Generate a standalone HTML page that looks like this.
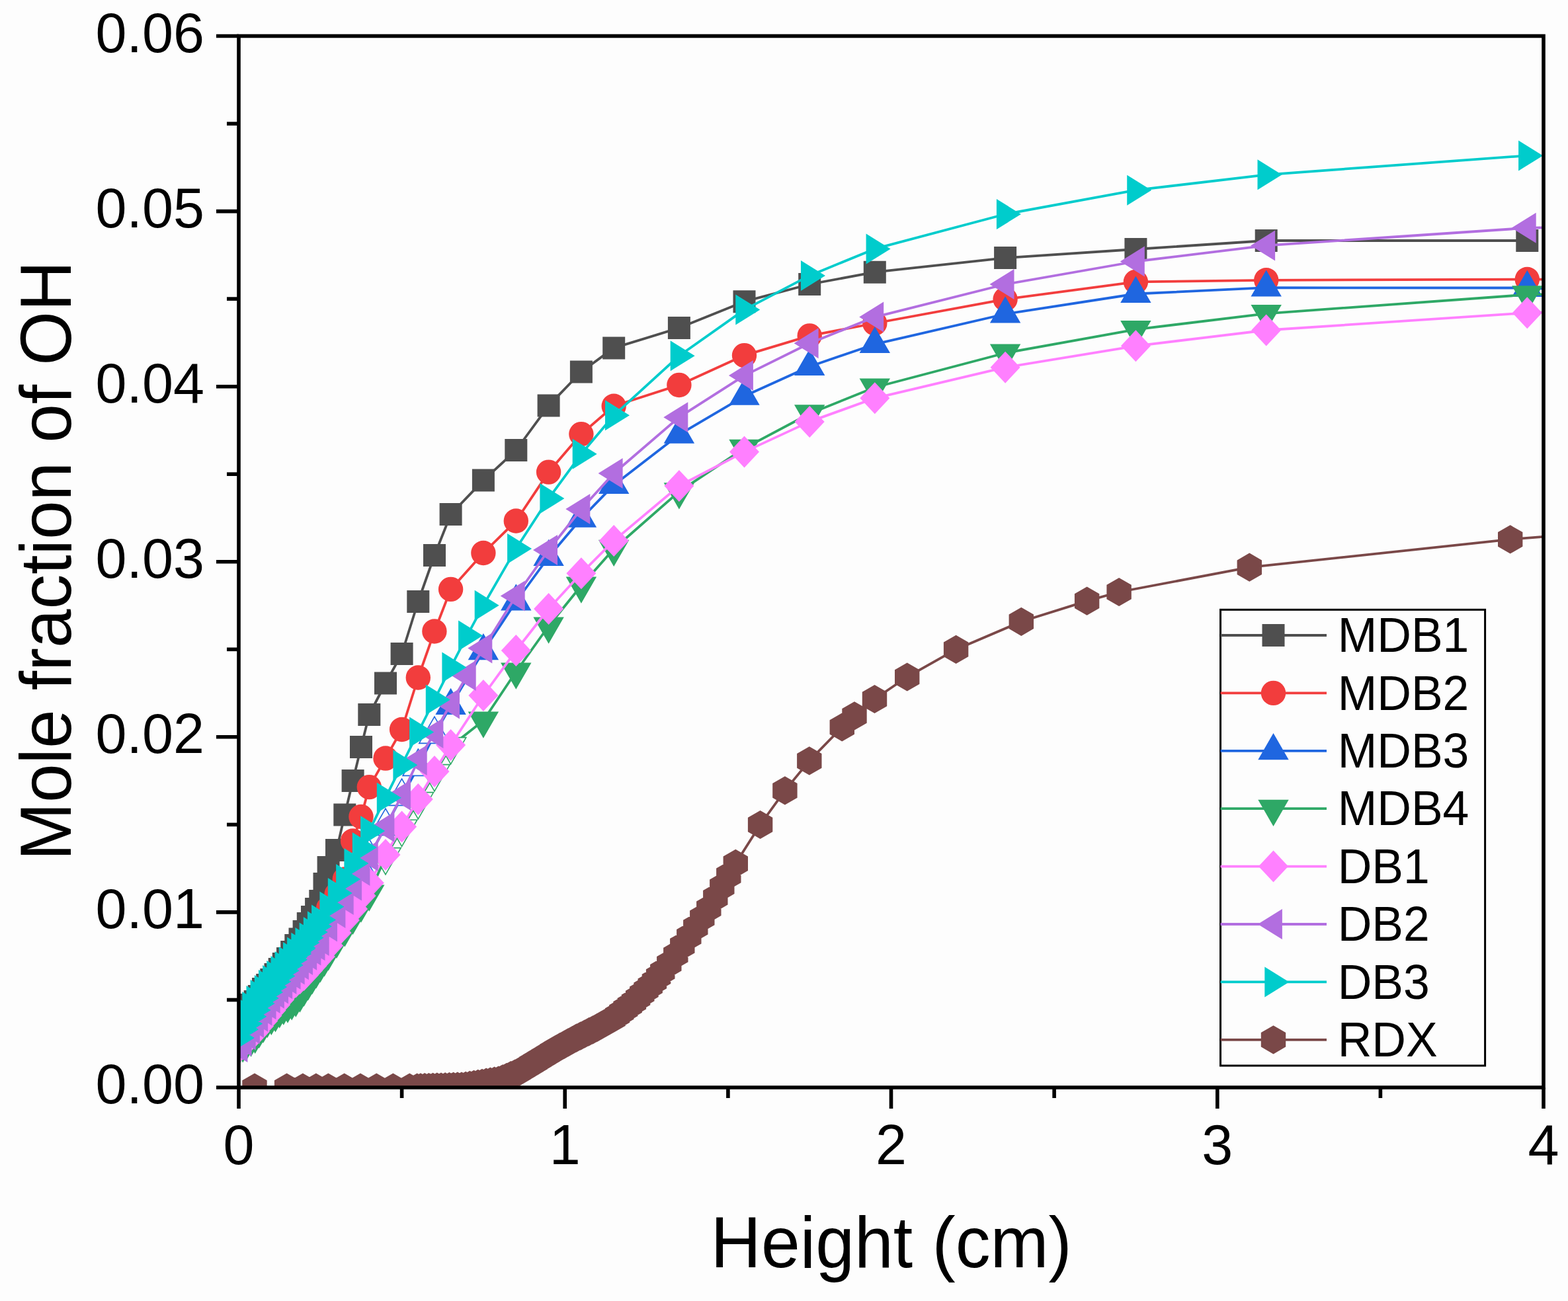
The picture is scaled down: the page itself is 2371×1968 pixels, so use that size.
<!DOCTYPE html>
<html><head><meta charset="utf-8"><title>Mole fraction of OH vs Height</title>
<style>html,body{margin:0;padding:0;background:#fdfdfd;}svg{display:block;}text{font-family:"Liberation Sans",Arial,sans-serif;fill:#000;}</style>
</head><body>
<svg xmlns="http://www.w3.org/2000/svg" width="2371" height="1968" viewBox="0 0 2371 1968">
<rect width="2371" height="1968" fill="#fdfdfd"/>
<defs><clipPath id="pc"><rect x="361" y="54.5" width="1973" height="1590.5"/></clipPath></defs>
<g clip-path="url(#pc)">
<polyline fill="none" stroke="#4f4f4f" stroke-width="3.8" stroke-linejoin="round" points="361.0,1527.0 367.2,1525.0 373.3,1522.0 379.5,1520.0 385.7,1515.0 391.8,1507.0 398.0,1496.0 404.2,1490.0 410.3,1482.0 416.5,1474.0 422.7,1466.0 428.8,1458.0 435.0,1450.0 441.2,1440.0 447.3,1430.0 453.5,1420.5 459.6,1409.0 465.8,1397.0 472.0,1387.0 478.1,1375.0 484.3,1363.0 490.5,1337.0 496.6,1312.0 509.0,1286.0 521.3,1232.5 533.6,1181.0 546.0,1130.0 558.3,1081.0 583.0,1033.5 607.6,989.0 632.3,910.0 657.0,840.0 681.6,778.0 730.9,726.6 780.3,681.0 829.6,613.6 878.9,562.5 928.2,526.4 1026.9,496.1 1125.5,456.2 1224.2,430.0 1322.8,411.7 1520.1,390.1 1717.4,377.0 1914.7,364.0 2309.3,364.0"/>
<path fill="#4f4f4f" d="M344.0 1510.0h34v34h-34zM350.2 1508.0h34v34h-34zM356.3 1505.0h34v34h-34zM362.5 1503.0h34v34h-34zM368.7 1498.0h34v34h-34zM374.8 1490.0h34v34h-34zM381.0 1479.0h34v34h-34zM387.2 1473.0h34v34h-34zM393.3 1465.0h34v34h-34zM399.5 1457.0h34v34h-34zM405.7 1449.0h34v34h-34zM411.8 1441.0h34v34h-34zM418.0 1433.0h34v34h-34zM424.2 1423.0h34v34h-34zM430.3 1413.0h34v34h-34zM436.5 1403.5h34v34h-34zM442.6 1392.0h34v34h-34zM448.8 1380.0h34v34h-34zM455.0 1370.0h34v34h-34zM461.1 1358.0h34v34h-34zM467.3 1346.0h34v34h-34zM473.5 1320.0h34v34h-34zM479.6 1295.0h34v34h-34zM492.0 1269.0h34v34h-34zM504.3 1215.5h34v34h-34zM516.6 1164.0h34v34h-34zM529.0 1113.0h34v34h-34zM541.3 1064.0h34v34h-34zM566.0 1016.5h34v34h-34zM590.6 972.0h34v34h-34zM615.3 893.0h34v34h-34zM640.0 823.0h34v34h-34zM664.6 761.0h34v34h-34zM713.9 709.6h34v34h-34zM763.3 664.0h34v34h-34zM812.6 596.6h34v34h-34zM861.9 545.5h34v34h-34zM911.2 509.4h34v34h-34zM1009.9 479.1h34v34h-34zM1108.5 439.2h34v34h-34zM1207.2 413.0h34v34h-34zM1305.8 394.7h34v34h-34zM1503.1 373.1h34v34h-34zM1700.4 360.0h34v34h-34zM1897.7 347.0h34v34h-34zM2292.3 347.0h34v34h-34z"/>
<polyline fill="none" stroke="#f23d3d" stroke-width="3.8" stroke-linejoin="round" points="361.0,1559.0 367.2,1547.0 373.3,1539.0 379.5,1529.0 385.7,1520.0 391.8,1511.0 398.0,1504.0 404.2,1496.0 410.3,1489.0 416.5,1482.0 422.7,1475.0 428.8,1468.0 435.0,1461.0 441.2,1454.1 447.3,1446.4 453.5,1439.8 459.6,1432.1 465.8,1426.5 472.0,1417.9 478.1,1409.2 484.3,1399.6 490.5,1389.5 496.6,1374.0 509.0,1353.0 521.3,1330.0 533.6,1272.0 546.0,1235.4 558.3,1190.6 583.0,1147.1 607.6,1103.5 632.3,1025.0 657.0,955.0 681.6,891.4 730.9,836.5 780.3,788.0 829.6,714.1 878.9,656.6 928.2,614.3 1026.9,582.4 1125.5,537.6 1224.2,507.9 1322.8,489.0 1520.1,452.6 1717.4,426.4 1914.7,423.8 2309.3,422.6 2531.3,422.0"/>
<path fill="#f23d3d" d="M342.3 1559.0a18.7 18.7 0 1 0 37.4 0a18.7 18.7 0 1 0 -37.4 0zM348.5 1547.0a18.7 18.7 0 1 0 37.4 0a18.7 18.7 0 1 0 -37.4 0zM354.6 1539.0a18.7 18.7 0 1 0 37.4 0a18.7 18.7 0 1 0 -37.4 0zM360.8 1529.0a18.7 18.7 0 1 0 37.4 0a18.7 18.7 0 1 0 -37.4 0zM367.0 1520.0a18.7 18.7 0 1 0 37.4 0a18.7 18.7 0 1 0 -37.4 0zM373.1 1511.0a18.7 18.7 0 1 0 37.4 0a18.7 18.7 0 1 0 -37.4 0zM379.3 1504.0a18.7 18.7 0 1 0 37.4 0a18.7 18.7 0 1 0 -37.4 0zM385.5 1496.0a18.7 18.7 0 1 0 37.4 0a18.7 18.7 0 1 0 -37.4 0zM391.6 1489.0a18.7 18.7 0 1 0 37.4 0a18.7 18.7 0 1 0 -37.4 0zM397.8 1482.0a18.7 18.7 0 1 0 37.4 0a18.7 18.7 0 1 0 -37.4 0zM404.0 1475.0a18.7 18.7 0 1 0 37.4 0a18.7 18.7 0 1 0 -37.4 0zM410.1 1468.0a18.7 18.7 0 1 0 37.4 0a18.7 18.7 0 1 0 -37.4 0zM416.3 1461.0a18.7 18.7 0 1 0 37.4 0a18.7 18.7 0 1 0 -37.4 0zM422.5 1454.1a18.7 18.7 0 1 0 37.4 0a18.7 18.7 0 1 0 -37.4 0zM428.6 1446.4a18.7 18.7 0 1 0 37.4 0a18.7 18.7 0 1 0 -37.4 0zM434.8 1439.8a18.7 18.7 0 1 0 37.4 0a18.7 18.7 0 1 0 -37.4 0zM440.9 1432.1a18.7 18.7 0 1 0 37.4 0a18.7 18.7 0 1 0 -37.4 0zM447.1 1426.5a18.7 18.7 0 1 0 37.4 0a18.7 18.7 0 1 0 -37.4 0zM453.3 1417.9a18.7 18.7 0 1 0 37.4 0a18.7 18.7 0 1 0 -37.4 0zM459.4 1409.2a18.7 18.7 0 1 0 37.4 0a18.7 18.7 0 1 0 -37.4 0zM465.6 1399.6a18.7 18.7 0 1 0 37.4 0a18.7 18.7 0 1 0 -37.4 0zM471.8 1389.5a18.7 18.7 0 1 0 37.4 0a18.7 18.7 0 1 0 -37.4 0zM477.9 1374.0a18.7 18.7 0 1 0 37.4 0a18.7 18.7 0 1 0 -37.4 0zM490.3 1353.0a18.7 18.7 0 1 0 37.4 0a18.7 18.7 0 1 0 -37.4 0zM502.6 1330.0a18.7 18.7 0 1 0 37.4 0a18.7 18.7 0 1 0 -37.4 0zM514.9 1272.0a18.7 18.7 0 1 0 37.4 0a18.7 18.7 0 1 0 -37.4 0zM527.3 1235.4a18.7 18.7 0 1 0 37.4 0a18.7 18.7 0 1 0 -37.4 0zM539.6 1190.6a18.7 18.7 0 1 0 37.4 0a18.7 18.7 0 1 0 -37.4 0zM564.3 1147.1a18.7 18.7 0 1 0 37.4 0a18.7 18.7 0 1 0 -37.4 0zM588.9 1103.5a18.7 18.7 0 1 0 37.4 0a18.7 18.7 0 1 0 -37.4 0zM613.6 1025.0a18.7 18.7 0 1 0 37.4 0a18.7 18.7 0 1 0 -37.4 0zM638.2 955.0a18.7 18.7 0 1 0 37.4 0a18.7 18.7 0 1 0 -37.4 0zM662.9 891.4a18.7 18.7 0 1 0 37.4 0a18.7 18.7 0 1 0 -37.4 0zM712.2 836.5a18.7 18.7 0 1 0 37.4 0a18.7 18.7 0 1 0 -37.4 0zM761.6 788.0a18.7 18.7 0 1 0 37.4 0a18.7 18.7 0 1 0 -37.4 0zM810.9 714.1a18.7 18.7 0 1 0 37.4 0a18.7 18.7 0 1 0 -37.4 0zM860.2 656.6a18.7 18.7 0 1 0 37.4 0a18.7 18.7 0 1 0 -37.4 0zM909.5 614.3a18.7 18.7 0 1 0 37.4 0a18.7 18.7 0 1 0 -37.4 0zM1008.2 582.4a18.7 18.7 0 1 0 37.4 0a18.7 18.7 0 1 0 -37.4 0zM1106.8 537.6a18.7 18.7 0 1 0 37.4 0a18.7 18.7 0 1 0 -37.4 0zM1205.5 507.9a18.7 18.7 0 1 0 37.4 0a18.7 18.7 0 1 0 -37.4 0zM1304.1 489.0a18.7 18.7 0 1 0 37.4 0a18.7 18.7 0 1 0 -37.4 0zM1501.4 452.6a18.7 18.7 0 1 0 37.4 0a18.7 18.7 0 1 0 -37.4 0zM1698.7 426.4a18.7 18.7 0 1 0 37.4 0a18.7 18.7 0 1 0 -37.4 0zM1896.0 423.8a18.7 18.7 0 1 0 37.4 0a18.7 18.7 0 1 0 -37.4 0zM2290.6 422.6a18.7 18.7 0 1 0 37.4 0a18.7 18.7 0 1 0 -37.4 0z"/>
<polyline fill="none" stroke="#1f66e0" stroke-width="3.8" stroke-linejoin="round" points="361.0,1568.5 367.2,1557.9 373.3,1549.2 379.5,1539.6 385.7,1530.5 391.8,1521.4 398.0,1513.2 404.2,1504.6 410.3,1496.5 416.5,1489.4 422.7,1482.2 428.8,1475.1 435.0,1468.0 441.2,1460.9 447.3,1453.5 453.5,1446.5 459.6,1439.1 465.8,1431.6 472.0,1423.7 478.1,1415.7 484.3,1407.3 490.5,1396.9 496.6,1386.5 509.0,1366.0 521.3,1348.5 533.6,1331.0 546.0,1313.5 558.3,1296.0 583.0,1250.0 607.6,1205.0 632.3,1160.0 657.0,1111.0 681.6,1067.6 730.9,984.8 780.3,910.0 829.6,842.5 878.9,784.3 928.2,733.7 1026.9,657.4 1125.5,599.3 1224.2,554.5 1322.8,520.7 1520.1,475.0 1717.4,444.5 1914.7,435.2 2309.3,435.5 2531.3,445.0"/>
<path fill="#1f66e0" d="M361.0 1541.7L384.2 1581.9L337.8 1581.9zM367.2 1531.1L390.4 1571.3L344.0 1571.3zM373.3 1522.5L396.5 1562.7L350.1 1562.7zM379.5 1512.8L402.7 1553.0L356.3 1553.0zM385.7 1503.7L408.9 1543.9L362.5 1543.9zM391.8 1494.6L415.0 1534.8L368.6 1534.8zM398.0 1486.5L421.2 1526.7L374.8 1526.7zM404.2 1477.8L427.4 1518.0L381.0 1518.0zM410.3 1469.7L433.5 1509.9L387.1 1509.9zM416.5 1462.6L439.7 1502.8L393.3 1502.8zM422.7 1455.5L445.9 1495.7L399.5 1495.7zM428.8 1448.3L452.0 1488.5L405.6 1488.5zM435.0 1441.2L458.2 1481.4L411.8 1481.4zM441.2 1434.1L464.4 1474.3L418.0 1474.3zM447.3 1426.7L470.5 1466.9L424.1 1466.9zM453.5 1419.7L476.7 1459.9L430.3 1459.9zM459.6 1412.3L482.8 1452.5L436.4 1452.5zM465.8 1404.8L489.0 1445.0L442.6 1445.0zM472.0 1396.9L495.2 1437.1L448.8 1437.1zM478.1 1388.9L501.3 1429.1L454.9 1429.1zM484.3 1380.5L507.5 1420.7L461.1 1420.7zM490.5 1370.1L513.7 1410.3L467.3 1410.3zM496.6 1359.7L519.8 1399.9L473.4 1399.9zM681.6 1040.8L704.8 1081.0L658.4 1081.0zM730.9 958.0L754.1 998.2L707.7 998.2zM780.3 883.2L803.5 923.4L757.1 923.4zM829.6 815.7L852.8 855.9L806.4 855.9zM878.9 757.5L902.1 797.7L855.7 797.7zM928.2 706.9L951.4 747.1L905.0 747.1zM1026.9 630.6L1050.1 670.8L1003.7 670.8zM1125.5 572.5L1148.7 612.7L1102.3 612.7zM1224.2 527.7L1247.4 567.9L1201.0 567.9zM1322.8 493.9L1346.0 534.1L1299.6 534.1zM1520.1 448.2L1543.3 488.4L1496.9 488.4zM1717.4 417.7L1740.6 457.9L1694.2 457.9zM1914.7 408.4L1937.9 448.6L1891.5 448.6zM2309.3 408.7L2332.5 448.9L2286.1 448.9z"/>
<path fill="#fdfdfd" stroke="#1f66e0" stroke-width="1.6" stroke-linejoin="miter" d="M509.0 1339.2L532.2 1379.4L485.8 1379.4zM521.3 1321.7L544.5 1361.9L498.1 1361.9zM533.6 1304.2L556.8 1344.4L510.4 1344.4zM546.0 1286.7L569.2 1326.9L522.8 1326.9zM558.3 1269.2L581.5 1309.4L535.1 1309.4zM583.0 1223.2L606.2 1263.4L559.8 1263.4zM607.6 1178.2L630.8 1218.4L584.4 1218.4zM632.3 1133.2L655.5 1173.4L609.1 1173.4zM657.0 1084.2L680.2 1124.4L633.8 1124.4z"/>
<polyline fill="none" stroke="#2ea866" stroke-width="3.8" stroke-linejoin="round" points="361.0,1585.0 367.2,1580.6 373.3,1576.3 379.5,1571.9 385.7,1567.1 391.8,1559.2 398.0,1551.3 404.2,1543.4 410.3,1539.1 416.5,1534.6 422.7,1528.7 428.8,1523.9 435.0,1520.9 441.2,1516.7 447.3,1512.0 453.5,1504.9 459.6,1495.9 465.8,1486.9 472.0,1477.8 478.1,1468.8 484.3,1459.8 490.5,1450.8 496.6,1441.7 509.0,1423.3 521.3,1405.7 533.6,1387.2 546.0,1369.0 558.3,1352.0 583.0,1296.0 607.6,1253.6 632.3,1212.0 657.0,1170.0 681.6,1129.0 730.9,1090.0 780.3,1016.0 829.6,947.0 878.9,886.0 928.2,830.2 1026.9,743.6 1125.5,678.1 1224.2,625.7 1322.8,586.0 1520.1,534.0 1717.4,498.4 1914.7,474.3 2309.3,445.7 2531.3,440.0"/>
<path fill="#2ea866" d="M361.0 1611.8L384.2 1571.6L337.8 1571.6zM367.2 1607.4L390.4 1567.2L344.0 1567.2zM373.3 1603.1L396.5 1562.9L350.1 1562.9zM379.5 1598.7L402.7 1558.5L356.3 1558.5zM385.7 1593.9L408.9 1553.7L362.5 1553.7zM391.8 1586.0L415.0 1545.8L368.6 1545.8zM398.0 1578.1L421.2 1537.9L374.8 1537.9zM404.2 1570.2L427.4 1530.0L381.0 1530.0zM410.3 1565.9L433.5 1525.7L387.1 1525.7zM416.5 1561.4L439.7 1521.2L393.3 1521.2zM422.7 1555.5L445.9 1515.3L399.5 1515.3zM428.8 1550.7L452.0 1510.5L405.6 1510.5zM435.0 1547.7L458.2 1507.5L411.8 1507.5zM441.2 1543.5L464.4 1503.3L418.0 1503.3zM447.3 1538.8L470.5 1498.6L424.1 1498.6zM453.5 1531.7L476.7 1491.5L430.3 1491.5zM459.6 1522.7L482.8 1482.5L436.4 1482.5zM465.8 1513.7L489.0 1473.5L442.6 1473.5zM472.0 1504.6L495.2 1464.4L448.8 1464.4zM478.1 1495.6L501.3 1455.4L454.9 1455.4zM484.3 1486.6L507.5 1446.4L461.1 1446.4zM490.5 1477.6L513.7 1437.4L467.3 1437.4zM496.6 1468.5L519.8 1428.3L473.4 1428.3zM509.0 1450.1L532.2 1409.9L485.8 1409.9zM521.3 1432.5L544.5 1392.3L498.1 1392.3zM533.6 1414.0L556.8 1373.8L510.4 1373.8zM546.0 1395.8L569.2 1355.6L522.8 1355.6zM558.3 1378.8L581.5 1338.6L535.1 1338.6zM730.9 1116.8L754.1 1076.6L707.7 1076.6zM780.3 1042.8L803.5 1002.6L757.1 1002.6zM829.6 973.8L852.8 933.6L806.4 933.6zM878.9 912.8L902.1 872.6L855.7 872.6zM928.2 857.0L951.4 816.8L905.0 816.8zM1026.9 770.4L1050.1 730.2L1003.7 730.2zM1125.5 704.9L1148.7 664.7L1102.3 664.7zM1224.2 652.5L1247.4 612.3L1201.0 612.3zM1322.8 612.8L1346.0 572.6L1299.6 572.6zM1520.1 560.8L1543.3 520.6L1496.9 520.6zM1717.4 525.2L1740.6 485.0L1694.2 485.0zM1914.7 501.1L1937.9 460.9L1891.5 460.9zM2309.3 472.5L2332.5 432.3L2286.1 432.3z"/>
<path fill="#fdfdfd" stroke="#2ea866" stroke-width="1.6" stroke-linejoin="miter" d="M583.0 1322.8L606.2 1282.6L559.8 1282.6zM607.6 1280.4L630.8 1240.2L584.4 1240.2zM632.3 1238.8L655.5 1198.6L609.1 1198.6zM657.0 1196.8L680.2 1156.6L633.8 1156.6zM681.6 1155.8L704.8 1115.6L658.4 1115.6z"/>
<polyline fill="none" stroke="#ff80ff" stroke-width="3.8" stroke-linejoin="round" points="361.0,1585.0 367.2,1578.8 373.3,1572.5 379.5,1566.2 385.7,1560.0 391.8,1552.0 398.0,1544.0 404.2,1536.0 410.3,1528.0 416.5,1520.0 422.7,1512.0 428.8,1504.0 435.0,1496.0 441.2,1490.8 447.3,1485.5 453.5,1480.2 459.6,1475.0 465.8,1468.0 472.0,1461.0 478.1,1454.0 484.3,1447.0 496.6,1430.5 509.0,1411.0 521.3,1392.0 533.6,1375.0 546.0,1355.0 558.3,1335.6 583.0,1293.0 607.6,1250.6 632.3,1209.0 657.0,1167.0 681.6,1127.0 730.9,1052.0 780.3,984.0 829.6,921.0 878.9,867.3 928.2,817.9 1026.9,735.0 1125.5,683.6 1224.2,637.9 1322.8,602.3 1520.1,555.7 1717.4,523.3 1914.7,499.5 2309.3,473.3 2531.3,466.0"/>
<path fill="#ff80ff" d="M361.0 1561.0L383.5 1585.0L361.0 1609.0L338.5 1585.0zM367.2 1554.8L389.7 1578.8L367.2 1602.8L344.7 1578.8zM373.3 1548.5L395.8 1572.5L373.3 1596.5L350.8 1572.5zM379.5 1542.2L402.0 1566.2L379.5 1590.2L357.0 1566.2zM385.7 1536.0L408.2 1560.0L385.7 1584.0L363.2 1560.0zM391.8 1528.0L414.3 1552.0L391.8 1576.0L369.3 1552.0zM398.0 1520.0L420.5 1544.0L398.0 1568.0L375.5 1544.0zM404.2 1512.0L426.7 1536.0L404.2 1560.0L381.7 1536.0zM410.3 1504.0L432.8 1528.0L410.3 1552.0L387.8 1528.0zM416.5 1496.0L439.0 1520.0L416.5 1544.0L394.0 1520.0zM422.7 1488.0L445.2 1512.0L422.7 1536.0L400.2 1512.0zM428.8 1480.0L451.3 1504.0L428.8 1528.0L406.3 1504.0zM435.0 1472.0L457.5 1496.0L435.0 1520.0L412.5 1496.0zM441.2 1466.8L463.7 1490.8L441.2 1514.8L418.7 1490.8zM447.3 1461.5L469.8 1485.5L447.3 1509.5L424.8 1485.5zM453.5 1456.2L476.0 1480.2L453.5 1504.2L431.0 1480.2zM459.6 1451.0L482.1 1475.0L459.6 1499.0L437.1 1475.0zM465.8 1444.0L488.3 1468.0L465.8 1492.0L443.3 1468.0zM472.0 1437.0L494.5 1461.0L472.0 1485.0L449.5 1461.0zM478.1 1430.0L500.6 1454.0L478.1 1478.0L455.6 1454.0zM484.3 1423.0L506.8 1447.0L484.3 1471.0L461.8 1447.0zM496.6 1406.5L519.1 1430.5L496.6 1454.5L474.1 1430.5zM509.0 1387.0L531.5 1411.0L509.0 1435.0L486.5 1411.0zM521.3 1368.0L543.8 1392.0L521.3 1416.0L498.8 1392.0zM533.6 1351.0L556.1 1375.0L533.6 1399.0L511.1 1375.0zM546.0 1331.0L568.5 1355.0L546.0 1379.0L523.5 1355.0zM558.3 1311.6L580.8 1335.6L558.3 1359.6L535.8 1335.6zM583.0 1269.0L605.5 1293.0L583.0 1317.0L560.5 1293.0zM607.6 1226.6L630.1 1250.6L607.6 1274.6L585.1 1250.6zM632.3 1185.0L654.8 1209.0L632.3 1233.0L609.8 1209.0zM657.0 1143.0L679.5 1167.0L657.0 1191.0L634.5 1167.0zM681.6 1103.0L704.1 1127.0L681.6 1151.0L659.1 1127.0zM730.9 1028.0L753.4 1052.0L730.9 1076.0L708.4 1052.0zM780.3 960.0L802.8 984.0L780.3 1008.0L757.8 984.0zM829.6 897.0L852.1 921.0L829.6 945.0L807.1 921.0zM878.9 843.3L901.4 867.3L878.9 891.3L856.4 867.3zM928.2 793.9L950.7 817.9L928.2 841.9L905.7 817.9zM1026.9 711.0L1049.4 735.0L1026.9 759.0L1004.4 735.0zM1125.5 659.6L1148.0 683.6L1125.5 707.6L1103.0 683.6zM1224.2 613.9L1246.7 637.9L1224.2 661.9L1201.7 637.9zM1322.8 578.3L1345.3 602.3L1322.8 626.3L1300.3 602.3zM1520.1 531.7L1542.6 555.7L1520.1 579.7L1497.6 555.7zM1717.4 499.3L1739.9 523.3L1717.4 547.3L1694.9 523.3zM1914.7 475.5L1937.2 499.5L1914.7 523.5L1892.2 499.5zM2309.3 449.3L2331.8 473.3L2309.3 497.3L2286.8 473.3z"/>
<polyline fill="none" stroke="#b26ee0" stroke-width="3.8" stroke-linejoin="round" points="361.0,1584.0 367.2,1574.8 373.3,1565.5 379.5,1556.2 385.7,1547.0 391.8,1537.8 398.0,1528.5 404.2,1519.2 410.3,1510.0 416.5,1502.8 422.7,1495.5 428.8,1488.2 435.0,1481.0 441.2,1473.8 447.3,1466.5 453.5,1459.2 459.6,1452.0 465.8,1444.8 472.0,1437.5 478.1,1430.2 484.3,1423.0 496.6,1401.5 509.0,1381.0 521.3,1361.0 533.6,1339.4 546.0,1317.0 558.3,1295.0 583.0,1251.0 607.6,1203.0 632.3,1150.0 657.0,1109.0 681.6,1064.5 706.3,1022.0 730.9,980.5 780.3,901.5 829.6,832.0 878.9,770.1 928.2,716.0 1026.9,631.2 1125.5,568.1 1224.2,519.3 1322.8,479.6 1520.1,430.0 1717.4,395.5 1914.7,371.4 2309.3,344.8 2531.3,340.0"/>
<path fill="#b26ee0" d="M337.4 1584.0L374.4 1561.0L374.4 1607.0zM343.6 1574.8L380.6 1551.8L380.6 1597.8zM349.7 1565.5L386.7 1542.5L386.7 1588.5zM355.9 1556.2L392.9 1533.2L392.9 1579.2zM362.1 1547.0L399.1 1524.0L399.1 1570.0zM368.2 1537.8L405.2 1514.8L405.2 1560.8zM374.4 1528.5L411.4 1505.5L411.4 1551.5zM380.6 1519.2L417.6 1496.2L417.6 1542.2zM386.7 1510.0L423.7 1487.0L423.7 1533.0zM392.9 1502.8L429.9 1479.8L429.9 1525.8zM399.1 1495.5L436.1 1472.5L436.1 1518.5zM405.2 1488.2L442.2 1465.2L442.2 1511.2zM411.4 1481.0L448.4 1458.0L448.4 1504.0zM417.6 1473.8L454.6 1450.8L454.6 1496.8zM423.7 1466.5L460.7 1443.5L460.7 1489.5zM429.9 1459.2L466.9 1436.2L466.9 1482.2zM436.0 1452.0L473.0 1429.0L473.0 1475.0zM442.2 1444.8L479.2 1421.8L479.2 1467.8zM448.4 1437.5L485.4 1414.5L485.4 1460.5zM454.5 1430.2L491.5 1407.2L491.5 1453.2zM460.7 1423.0L497.7 1400.0L497.7 1446.0zM473.0 1401.5L510.0 1378.5L510.0 1424.5zM485.4 1381.0L522.4 1358.0L522.4 1404.0zM497.7 1361.0L534.7 1338.0L534.7 1384.0zM510.0 1339.4L547.0 1316.4L547.0 1362.4zM522.4 1317.0L559.4 1294.0L559.4 1340.0zM534.7 1295.0L571.7 1272.0L571.7 1318.0zM559.4 1251.0L596.4 1228.0L596.4 1274.0zM584.0 1203.0L621.0 1180.0L621.0 1226.0zM608.7 1150.0L645.7 1127.0L645.7 1173.0zM633.4 1109.0L670.4 1086.0L670.4 1132.0zM658.0 1064.5L695.0 1041.5L695.0 1087.5zM682.7 1022.0L719.7 999.0L719.7 1045.0zM707.3 980.5L744.3 957.5L744.3 1003.5zM756.7 901.5L793.7 878.5L793.7 924.5zM806.0 832.0L843.0 809.0L843.0 855.0zM855.3 770.1L892.3 747.1L892.3 793.1zM904.6 716.0L941.6 693.0L941.6 739.0zM1003.3 631.2L1040.3 608.2L1040.3 654.2zM1101.9 568.1L1138.9 545.1L1138.9 591.1zM1200.6 519.3L1237.6 496.3L1237.6 542.3zM1299.2 479.6L1336.2 456.6L1336.2 502.6zM1496.5 430.0L1533.5 407.0L1533.5 453.0zM1693.8 395.5L1730.8 372.5L1730.8 418.5zM1891.1 371.4L1928.1 348.4L1928.1 394.4zM2285.7 344.8L2322.7 321.8L2322.7 367.8z"/>
<polyline fill="none" stroke="#00cccc" stroke-width="3.8" stroke-linejoin="round" points="361.0,1553.0 367.2,1541.0 373.3,1533.0 379.5,1523.0 385.7,1514.0 391.8,1505.0 398.0,1498.0 404.2,1490.0 410.3,1483.0 416.5,1476.0 422.7,1469.0 428.8,1462.0 435.0,1455.0 441.2,1448.1 447.3,1440.4 453.5,1433.8 459.6,1426.1 465.8,1418.5 472.0,1409.9 478.1,1401.2 484.3,1391.6 496.6,1371.5 509.0,1351.0 521.3,1330.0 533.6,1306.0 546.0,1282.0 558.3,1257.0 583.0,1206.7 607.6,1157.2 632.3,1107.5 657.0,1058.5 681.6,1009.4 706.3,961.5 730.9,915.8 780.3,830.0 829.6,754.1 878.9,686.8 928.2,628.3 1026.9,538.3 1125.5,468.6 1224.2,416.9 1322.8,376.4 1520.1,324.0 1717.4,287.7 1914.7,264.3 2309.3,235.4"/>
<path fill="#00cccc" d="M384.8 1553.0L347.8 1530.0L347.8 1576.0zM391.0 1541.0L354.0 1518.0L354.0 1564.0zM397.1 1533.0L360.1 1510.0L360.1 1556.0zM403.3 1523.0L366.3 1500.0L366.3 1546.0zM409.5 1514.0L372.5 1491.0L372.5 1537.0zM415.6 1505.0L378.6 1482.0L378.6 1528.0zM421.8 1498.0L384.8 1475.0L384.8 1521.0zM428.0 1490.0L391.0 1467.0L391.0 1513.0zM434.1 1483.0L397.1 1460.0L397.1 1506.0zM440.3 1476.0L403.3 1453.0L403.3 1499.0zM446.5 1469.0L409.5 1446.0L409.5 1492.0zM452.6 1462.0L415.6 1439.0L415.6 1485.0zM458.8 1455.0L421.8 1432.0L421.8 1478.0zM465.0 1448.1L428.0 1425.1L428.0 1471.1zM471.1 1440.4L434.1 1417.4L434.1 1463.4zM477.3 1433.8L440.3 1410.8L440.3 1456.8zM483.4 1426.1L446.4 1403.1L446.4 1449.1zM489.6 1418.5L452.6 1395.5L452.6 1441.5zM495.8 1409.9L458.8 1386.9L458.8 1432.9zM501.9 1401.2L464.9 1378.2L464.9 1424.2zM508.1 1391.6L471.1 1368.6L471.1 1414.6zM520.4 1371.5L483.4 1348.5L483.4 1394.5zM532.8 1351.0L495.8 1328.0L495.8 1374.0zM545.1 1330.0L508.1 1307.0L508.1 1353.0zM557.4 1306.0L520.4 1283.0L520.4 1329.0zM569.8 1282.0L532.8 1259.0L532.8 1305.0zM582.1 1257.0L545.1 1234.0L545.1 1280.0zM606.8 1206.7L569.8 1183.7L569.8 1229.7zM631.4 1157.2L594.4 1134.2L594.4 1180.2zM656.1 1107.5L619.1 1084.5L619.1 1130.5zM680.8 1058.5L643.8 1035.5L643.8 1081.5zM705.4 1009.4L668.4 986.4L668.4 1032.4zM730.1 961.5L693.1 938.5L693.1 984.5zM754.7 915.8L717.7 892.8L717.7 938.8zM804.1 830.0L767.1 807.0L767.1 853.0zM853.4 754.1L816.4 731.1L816.4 777.1zM902.7 686.8L865.7 663.8L865.7 709.8zM952.0 628.3L915.0 605.3L915.0 651.3zM1050.7 538.3L1013.7 515.3L1013.7 561.3zM1149.3 468.6L1112.3 445.6L1112.3 491.6zM1248.0 416.9L1211.0 393.9L1211.0 439.9zM1346.6 376.4L1309.6 353.4L1309.6 399.4zM1543.9 324.0L1506.9 301.0L1506.9 347.0zM1741.2 287.7L1704.2 264.7L1704.2 310.7zM1938.5 264.3L1901.5 241.3L1901.5 287.3zM2333.1 235.4L2296.1 212.4L2296.1 258.4zM384.8 1570.0L347.8 1547.0L347.8 1593.0zM391.0 1557.2L354.0 1534.2L354.0 1580.2zM397.1 1548.5L360.1 1525.5L360.1 1571.5zM403.3 1537.8L366.3 1514.8L366.3 1560.8zM409.5 1528.0L372.5 1505.0L372.5 1551.0zM415.6 1518.0L378.6 1495.0L378.6 1541.0zM421.8 1510.0L384.8 1487.0L384.8 1533.0zM428.0 1501.0L391.0 1478.0L391.0 1524.0zM434.1 1493.0L397.1 1470.0L397.1 1516.0zM440.3 1484.8L403.3 1461.8L403.3 1507.8zM446.5 1476.5L409.5 1453.5L409.5 1499.5zM452.6 1468.2L415.6 1445.2L415.6 1491.2zM458.8 1460.0L421.8 1437.0L421.8 1483.0zM465.0 1451.8L428.0 1428.8L428.0 1474.8zM471.1 1442.9L434.1 1419.9L434.1 1465.9zM477.3 1435.0L440.3 1412.0L440.3 1458.0z"/>
<polyline fill="none" stroke="#7a4848" stroke-width="3.8" stroke-linejoin="round" points="385.0,1645.0 433.6,1645.0 457.9,1645.0 477.9,1645.0 496.4,1645.0 520.7,1645.0 545.0,1645.0 569.3,1645.0 594.4,1645.0 619.3,1645.0 630.7,1645.0 636.0,1644.8 642.2,1644.7 648.4,1644.5 654.6,1644.3 660.8,1644.1 667.0,1644.0 673.2,1643.8 679.4,1643.6 685.6,1643.4 691.8,1643.2 698.0,1643.1 704.2,1642.3 710.4,1641.3 716.6,1640.3 722.8,1639.3 729.0,1638.3 735.2,1637.2 741.4,1636.2 747.6,1635.2 753.8,1634.2 760.0,1631.9 766.2,1629.3 772.4,1626.7 778.6,1624.1 784.8,1621.3 791.0,1617.5 797.2,1613.7 803.4,1609.9 809.6,1606.1 815.8,1602.3 822.0,1598.5 828.2,1594.7 834.4,1590.9 840.6,1587.1 846.8,1583.7 853.0,1580.3 859.2,1576.9 865.4,1573.5 871.6,1570.2 877.8,1567.1 884.0,1564.0 890.2,1560.9 896.4,1557.8 902.6,1554.6 908.8,1551.1 915.0,1547.6 921.2,1544.2 927.4,1540.7 933.6,1536.0 939.8,1531.0 946.0,1525.9 952.2,1520.9 958.4,1515.6 964.6,1509.5 970.8,1503.4 977.0,1497.3 983.2,1491.3 989.4,1484.5 995.6,1477.1 1001.8,1469.7 1011.8,1457.8 1021.8,1444.5 1031.8,1430.6 1041.8,1416.7 1051.8,1402.6 1061.8,1388.4 1071.8,1374.3 1081.8,1357.8 1091.8,1341.3 1101.8,1324.4 1112.3,1306.3 1149.6,1247.5 1186.9,1195.9 1223.8,1150.9 1273.3,1100.0 1292.0,1082.9 1322.5,1057.5 1371.7,1024.0 1445.6,982.4 1544.3,940.3 1643.6,909.1 1692.1,895.5 1889.3,858.2 2283.7,815.9 2480.0,800.0"/>
<path fill="#7a4848" d="M385.0 1623.4L403.7 1634.2L403.7 1655.8L385.0 1666.6L366.3 1655.8L366.3 1634.2zM433.6 1623.4L452.3 1634.2L452.3 1655.8L433.6 1666.6L414.9 1655.8L414.9 1634.2zM457.9 1623.4L476.6 1634.2L476.6 1655.8L457.9 1666.6L439.2 1655.8L439.2 1634.2zM477.9 1623.4L496.6 1634.2L496.6 1655.8L477.9 1666.6L459.2 1655.8L459.2 1634.2zM496.4 1623.4L515.1 1634.2L515.1 1655.8L496.4 1666.6L477.7 1655.8L477.7 1634.2zM520.7 1623.4L539.4 1634.2L539.4 1655.8L520.7 1666.6L502.0 1655.8L502.0 1634.2zM545.0 1623.4L563.7 1634.2L563.7 1655.8L545.0 1666.6L526.3 1655.8L526.3 1634.2zM569.3 1623.4L588.0 1634.2L588.0 1655.8L569.3 1666.6L550.6 1655.8L550.6 1634.2zM594.4 1623.4L613.1 1634.2L613.1 1655.8L594.4 1666.6L575.7 1655.8L575.7 1634.2zM619.3 1623.4L638.0 1634.2L638.0 1655.8L619.3 1666.6L600.6 1655.8L600.6 1634.2zM630.7 1623.4L649.4 1634.2L649.4 1655.8L630.7 1666.6L612.0 1655.8L612.0 1634.2zM636.0 1623.2L654.7 1634.0L654.7 1655.6L636.0 1666.4L617.3 1655.6L617.3 1634.0zM642.2 1623.1L660.9 1633.9L660.9 1655.5L642.2 1666.3L623.5 1655.5L623.5 1633.9zM648.4 1622.9L667.1 1633.7L667.1 1655.3L648.4 1666.1L629.7 1655.3L629.7 1633.7zM654.6 1622.7L673.3 1633.5L673.3 1655.1L654.6 1665.9L635.9 1655.1L635.9 1633.5zM660.8 1622.5L679.5 1633.3L679.5 1654.9L660.8 1665.7L642.1 1654.9L642.1 1633.3zM667.0 1622.4L685.7 1633.2L685.7 1654.8L667.0 1665.6L648.3 1654.8L648.3 1633.2zM673.2 1622.2L691.9 1633.0L691.9 1654.6L673.2 1665.4L654.5 1654.6L654.5 1633.0zM679.4 1622.0L698.1 1632.8L698.1 1654.4L679.4 1665.2L660.7 1654.4L660.7 1632.8zM685.6 1621.8L704.3 1632.6L704.3 1654.2L685.6 1665.0L666.9 1654.2L666.9 1632.6zM691.8 1621.6L710.5 1632.4L710.5 1654.0L691.8 1664.8L673.1 1654.0L673.1 1632.4zM698.0 1621.5L716.7 1632.3L716.7 1653.9L698.0 1664.7L679.3 1653.9L679.3 1632.3zM704.2 1620.7L722.9 1631.5L722.9 1653.1L704.2 1663.9L685.5 1653.1L685.5 1631.5zM710.4 1619.7L729.1 1630.5L729.1 1652.1L710.4 1662.9L691.7 1652.1L691.7 1630.5zM716.6 1618.7L735.3 1629.5L735.3 1651.1L716.6 1661.9L697.9 1651.1L697.9 1629.5zM722.8 1617.7L741.5 1628.5L741.5 1650.1L722.8 1660.9L704.1 1650.1L704.1 1628.5zM729.0 1616.7L747.7 1627.5L747.7 1649.1L729.0 1659.9L710.3 1649.1L710.3 1627.5zM735.2 1615.6L753.9 1626.4L753.9 1648.0L735.2 1658.8L716.5 1648.0L716.5 1626.4zM741.4 1614.6L760.1 1625.4L760.1 1647.0L741.4 1657.8L722.7 1647.0L722.7 1625.4zM747.6 1613.6L766.3 1624.4L766.3 1646.0L747.6 1656.8L728.9 1646.0L728.9 1624.4zM753.8 1612.6L772.5 1623.4L772.5 1645.0L753.8 1655.8L735.1 1645.0L735.1 1623.4zM760.0 1610.3L778.7 1621.1L778.7 1642.7L760.0 1653.5L741.3 1642.7L741.3 1621.1zM766.2 1607.7L784.9 1618.5L784.9 1640.1L766.2 1650.9L747.5 1640.1L747.5 1618.5zM772.4 1605.1L791.1 1615.9L791.1 1637.5L772.4 1648.3L753.7 1637.5L753.7 1615.9zM778.6 1602.5L797.3 1613.3L797.3 1634.9L778.6 1645.7L759.9 1634.9L759.9 1613.3zM784.8 1599.7L803.5 1610.5L803.5 1632.1L784.8 1642.9L766.1 1632.1L766.1 1610.5zM791.0 1595.9L809.7 1606.7L809.7 1628.3L791.0 1639.1L772.3 1628.3L772.3 1606.7zM797.2 1592.1L815.9 1602.9L815.9 1624.5L797.2 1635.3L778.5 1624.5L778.5 1602.9zM803.4 1588.3L822.1 1599.1L822.1 1620.7L803.4 1631.5L784.7 1620.7L784.7 1599.1zM809.6 1584.5L828.3 1595.3L828.3 1616.9L809.6 1627.7L790.9 1616.9L790.9 1595.3zM815.8 1580.7L834.5 1591.5L834.5 1613.1L815.8 1623.9L797.1 1613.1L797.1 1591.5zM822.0 1576.9L840.7 1587.7L840.7 1609.3L822.0 1620.1L803.3 1609.3L803.3 1587.7zM828.2 1573.1L846.9 1583.9L846.9 1605.5L828.2 1616.3L809.5 1605.5L809.5 1583.9zM834.4 1569.3L853.1 1580.1L853.1 1601.7L834.4 1612.5L815.7 1601.7L815.7 1580.1zM840.6 1565.5L859.3 1576.3L859.3 1597.9L840.6 1608.7L821.9 1597.9L821.9 1576.3zM846.8 1562.1L865.5 1572.9L865.5 1594.5L846.8 1605.3L828.1 1594.5L828.1 1572.9zM853.0 1558.7L871.7 1569.5L871.7 1591.1L853.0 1601.9L834.3 1591.1L834.3 1569.5zM859.2 1555.3L877.9 1566.1L877.9 1587.7L859.2 1598.5L840.5 1587.7L840.5 1566.1zM865.4 1551.9L884.1 1562.7L884.1 1584.3L865.4 1595.1L846.7 1584.3L846.7 1562.7zM871.6 1548.6L890.3 1559.4L890.3 1581.0L871.6 1591.8L852.9 1581.0L852.9 1559.4zM877.8 1545.5L896.5 1556.3L896.5 1577.9L877.8 1588.7L859.1 1577.9L859.1 1556.3zM884.0 1542.4L902.7 1553.2L902.7 1574.8L884.0 1585.6L865.3 1574.8L865.3 1553.2zM890.2 1539.3L908.9 1550.1L908.9 1571.7L890.2 1582.5L871.5 1571.7L871.5 1550.1zM896.4 1536.2L915.1 1547.0L915.1 1568.6L896.4 1579.4L877.7 1568.6L877.7 1547.0zM902.6 1533.0L921.3 1543.8L921.3 1565.4L902.6 1576.2L883.9 1565.4L883.9 1543.8zM908.8 1529.5L927.5 1540.3L927.5 1561.9L908.8 1572.7L890.1 1561.9L890.1 1540.3zM915.0 1526.0L933.7 1536.8L933.7 1558.4L915.0 1569.2L896.3 1558.4L896.3 1536.8zM921.2 1522.6L939.9 1533.4L939.9 1555.0L921.2 1565.8L902.5 1555.0L902.5 1533.4zM927.4 1519.1L946.1 1529.9L946.1 1551.5L927.4 1562.3L908.7 1551.5L908.7 1529.9zM933.6 1514.4L952.3 1525.2L952.3 1546.8L933.6 1557.6L914.9 1546.8L914.9 1525.2zM939.8 1509.4L958.5 1520.2L958.5 1541.8L939.8 1552.6L921.1 1541.8L921.1 1520.2zM946.0 1504.3L964.7 1515.1L964.7 1536.7L946.0 1547.5L927.3 1536.7L927.3 1515.1zM952.2 1499.3L970.9 1510.1L970.9 1531.7L952.2 1542.5L933.5 1531.7L933.5 1510.1zM958.4 1494.0L977.1 1504.8L977.1 1526.4L958.4 1537.2L939.7 1526.4L939.7 1504.8zM964.6 1487.9L983.3 1498.7L983.3 1520.3L964.6 1531.1L945.9 1520.3L945.9 1498.7zM970.8 1481.8L989.5 1492.6L989.5 1514.2L970.8 1525.0L952.1 1514.2L952.1 1492.6zM977.0 1475.7L995.7 1486.5L995.7 1508.1L977.0 1518.9L958.3 1508.1L958.3 1486.5zM983.2 1469.7L1001.9 1480.5L1001.9 1502.1L983.2 1512.9L964.5 1502.1L964.5 1480.5zM989.4 1462.9L1008.1 1473.7L1008.1 1495.3L989.4 1506.1L970.7 1495.3L970.7 1473.7zM995.6 1455.5L1014.3 1466.3L1014.3 1487.9L995.6 1498.7L976.9 1487.9L976.9 1466.3zM1001.8 1448.1L1020.5 1458.9L1020.5 1480.5L1001.8 1491.3L983.1 1480.5L983.1 1458.9zM1011.8 1436.2L1030.5 1447.0L1030.5 1468.6L1011.8 1479.4L993.1 1468.6L993.1 1447.0zM1021.8 1422.9L1040.5 1433.7L1040.5 1455.3L1021.8 1466.1L1003.1 1455.3L1003.1 1433.7zM1031.8 1409.0L1050.5 1419.8L1050.5 1441.4L1031.8 1452.2L1013.1 1441.4L1013.1 1419.8zM1041.8 1395.1L1060.5 1405.9L1060.5 1427.5L1041.8 1438.3L1023.1 1427.5L1023.1 1405.9zM1051.8 1381.0L1070.5 1391.8L1070.5 1413.4L1051.8 1424.2L1033.1 1413.4L1033.1 1391.8zM1061.8 1366.8L1080.5 1377.6L1080.5 1399.2L1061.8 1410.0L1043.1 1399.2L1043.1 1377.6zM1071.8 1352.7L1090.5 1363.5L1090.5 1385.1L1071.8 1395.9L1053.1 1385.1L1053.1 1363.5zM1081.8 1336.2L1100.5 1347.0L1100.5 1368.6L1081.8 1379.4L1063.1 1368.6L1063.1 1347.0zM1091.8 1319.7L1110.5 1330.5L1110.5 1352.1L1091.8 1362.9L1073.1 1352.1L1073.1 1330.5zM1101.8 1302.8L1120.5 1313.6L1120.5 1335.2L1101.8 1346.0L1083.1 1335.2L1083.1 1313.6zM1112.3 1284.7L1131.0 1295.5L1131.0 1317.1L1112.3 1327.9L1093.6 1317.1L1093.6 1295.5zM1149.6 1225.9L1168.3 1236.7L1168.3 1258.3L1149.6 1269.1L1130.9 1258.3L1130.9 1236.7zM1186.9 1174.3L1205.6 1185.1L1205.6 1206.7L1186.9 1217.5L1168.2 1206.7L1168.2 1185.1zM1223.8 1129.3L1242.5 1140.1L1242.5 1161.7L1223.8 1172.5L1205.1 1161.7L1205.1 1140.1zM1273.3 1078.4L1292.0 1089.2L1292.0 1110.8L1273.3 1121.6L1254.6 1110.8L1254.6 1089.2zM1292.0 1061.3L1310.7 1072.1L1310.7 1093.7L1292.0 1104.5L1273.3 1093.7L1273.3 1072.1zM1322.5 1035.9L1341.2 1046.7L1341.2 1068.3L1322.5 1079.1L1303.8 1068.3L1303.8 1046.7zM1371.7 1002.4L1390.4 1013.2L1390.4 1034.8L1371.7 1045.6L1353.0 1034.8L1353.0 1013.2zM1445.6 960.8L1464.3 971.6L1464.3 993.2L1445.6 1004.0L1426.9 993.2L1426.9 971.6zM1544.3 918.7L1563.0 929.5L1563.0 951.1L1544.3 961.9L1525.6 951.1L1525.6 929.5zM1643.6 887.5L1662.3 898.3L1662.3 919.9L1643.6 930.7L1624.9 919.9L1624.9 898.3zM1692.1 873.9L1710.8 884.7L1710.8 906.3L1692.1 917.1L1673.4 906.3L1673.4 884.7zM1889.3 836.6L1908.0 847.4L1908.0 869.0L1889.3 879.8L1870.6 869.0L1870.6 847.4zM2283.7 794.3L2302.4 805.1L2302.4 826.7L2283.7 837.5L2265.0 826.7L2265.0 805.1z"/>
</g>
<g stroke="#000" stroke-width="5.6" stroke-linecap="butt">
<line x1="361.0" y1="1645" x2="361.0" y2="1677"/>
<line x1="607.6" y1="1645" x2="607.6" y2="1661"/>
<line x1="854.2" y1="1645" x2="854.2" y2="1677"/>
<line x1="1100.9" y1="1645" x2="1100.9" y2="1661"/>
<line x1="1347.5" y1="1645" x2="1347.5" y2="1677"/>
<line x1="1594.1" y1="1645" x2="1594.1" y2="1661"/>
<line x1="1840.8" y1="1645" x2="1840.8" y2="1677"/>
<line x1="2087.4" y1="1645" x2="2087.4" y2="1661"/>
<line x1="2334.0" y1="1645" x2="2334.0" y2="1677"/>
<line x1="361" y1="1645.0" x2="327" y2="1645.0"/>
<line x1="361" y1="1512.5" x2="343" y2="1512.5"/>
<line x1="361" y1="1379.9" x2="327" y2="1379.9"/>
<line x1="361" y1="1247.4" x2="343" y2="1247.4"/>
<line x1="361" y1="1114.8" x2="327" y2="1114.8"/>
<line x1="361" y1="982.3" x2="343" y2="982.3"/>
<line x1="361" y1="849.8" x2="327" y2="849.8"/>
<line x1="361" y1="717.2" x2="343" y2="717.2"/>
<line x1="361" y1="584.7" x2="327" y2="584.7"/>
<line x1="361" y1="452.1" x2="343" y2="452.1"/>
<line x1="361" y1="319.6" x2="327" y2="319.6"/>
<line x1="361" y1="187.1" x2="343" y2="187.1"/>
<line x1="361" y1="54.5" x2="327" y2="54.5"/>
</g>
<rect x="361" y="54.5" width="1973" height="1590.5" fill="none" stroke="#000" stroke-width="5.6"/>
<g font-size="84.5" transform="scale(1,1.005)">
<text x="309" y="1661.2" text-anchor="end">0.00</text>
<text x="309" y="1397.4" text-anchor="end">0.01</text>
<text x="309" y="1133.7" text-anchor="end">0.02</text>
<text x="309" y="869.9" text-anchor="end">0.03</text>
<text x="309" y="606.1" text-anchor="end">0.04</text>
<text x="309" y="342.4" text-anchor="end">0.05</text>
<text x="309" y="78.6" text-anchor="end">0.06</text>
<text x="361.0" y="1752.6" text-anchor="middle">0</text>
<text x="854.2" y="1752.6" text-anchor="middle">1</text>
<text x="1347.5" y="1752.6" text-anchor="middle">2</text>
<text x="1840.8" y="1752.6" text-anchor="middle">3</text>
<text x="2334.0" y="1752.6" text-anchor="middle">4</text>
</g>
<text font-size="105.7" x="1074.6" y="1843.5" transform="scale(1,1.04)">Height (cm)</text>
<text font-size="105.3" transform="translate(107.4,1301.7) rotate(-90) scale(1,1.04)" x="0" y="0">Mole fraction of OH</text>
<rect x="1845.5" y="922.3" width="400.0999999999999" height="689.7" fill="#fdfdfd" stroke="#000" stroke-width="3"/>
<g font-size="71.5">
<line x1="1845.5" y1="961.0" x2="2006" y2="961.0" stroke="#4f4f4f" stroke-width="3.8"/>
<path fill="#4f4f4f" d="M1908.5 944.0h34v34h-34z"/>
<text x="2022.7" y="948.3" transform="scale(1,1.04)">MDB1</text>
<line x1="1845.5" y1="1048.4" x2="2006" y2="1048.4" stroke="#f23d3d" stroke-width="3.8"/>
<path fill="#f23d3d" d="M1906.8 1048.4a18.7 18.7 0 1 0 37.4 0a18.7 18.7 0 1 0 -37.4 0z"/>
<text x="2022.7" y="1032.3" transform="scale(1,1.04)">MDB2</text>
<line x1="1845.5" y1="1135.8" x2="2006" y2="1135.8" stroke="#1f66e0" stroke-width="3.8"/>
<path fill="#1f66e0" d="M1925.5 1109.0L1948.7 1149.2L1902.3 1149.2z"/>
<text x="2022.7" y="1116.3" transform="scale(1,1.04)">MDB3</text>
<line x1="1845.5" y1="1223.2" x2="2006" y2="1223.2" stroke="#2ea866" stroke-width="3.8"/>
<path fill="#2ea866" d="M1925.5 1250.0L1948.7 1209.8L1902.3 1209.8z"/>
<text x="2022.7" y="1200.4" transform="scale(1,1.04)">MDB4</text>
<line x1="1845.5" y1="1310.6" x2="2006" y2="1310.6" stroke="#ff80ff" stroke-width="3.8"/>
<path fill="#ff80ff" d="M1925.5 1286.6L1948.0 1310.6L1925.5 1334.6L1903.0 1310.6z"/>
<text x="2022.7" y="1284.4" transform="scale(1,1.04)">DB1</text>
<line x1="1845.5" y1="1398.0" x2="2006" y2="1398.0" stroke="#b26ee0" stroke-width="3.8"/>
<path fill="#b26ee0" d="M1901.9 1398.0L1938.9 1375.0L1938.9 1421.0z"/>
<text x="2022.7" y="1368.5" transform="scale(1,1.04)">DB2</text>
<line x1="1845.5" y1="1485.4" x2="2006" y2="1485.4" stroke="#00cccc" stroke-width="3.8"/>
<path fill="#00cccc" d="M1949.3 1485.4L1912.3 1462.4L1912.3 1508.4z"/>
<text x="2022.7" y="1452.5" transform="scale(1,1.04)">DB3</text>
<line x1="1845.5" y1="1572.8" x2="2006" y2="1572.8" stroke="#7a4848" stroke-width="3.8"/>
<path fill="#7a4848" d="M1925.5 1551.2L1944.2 1562.0L1944.2 1583.6L1925.5 1594.4L1906.8 1583.6L1906.8 1562.0z"/>
<text x="2022.7" y="1536.5" transform="scale(1,1.04)">RDX</text>
</g>
</svg>
</body></html>
